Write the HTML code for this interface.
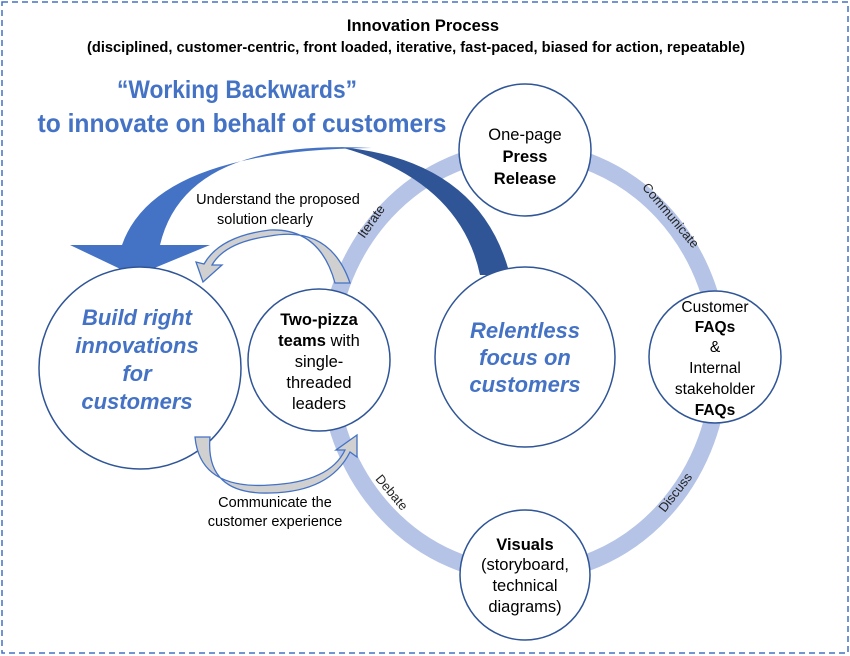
<!DOCTYPE html>
<html><head><meta charset="utf-8"><style>
body{margin:0;background:#fff}
svg{display:block;font-family:"Liberation Sans",sans-serif}
</style></head><body>
<svg width="850" height="656" viewBox="0 0 850 656" xmlns="http://www.w3.org/2000/svg">
<rect x="2" y="2" width="846" height="651" fill="#fff" stroke="#4472c4" stroke-width="1.5" stroke-dasharray="6,4"/>
<text x="423" y="31" text-anchor="middle" font-size="16.5" font-weight="bold" fill="#000">Innovation Process</text>
<text x="416" y="52" text-anchor="middle" font-size="14.5" font-weight="bold" fill="#000" textLength="658" lengthAdjust="spacingAndGlyphs">(disciplined, customer-centric, front loaded, iterative, fast-paced, biased for action, repeatable)</text>
<text x="237" y="98" text-anchor="middle" font-size="25" font-weight="bold" fill="#4472c4" textLength="240" lengthAdjust="spacingAndGlyphs">“Working Backwards”</text>
<text x="242" y="132" text-anchor="middle" font-size="26" font-weight="bold" fill="#4472c4" textLength="409" lengthAdjust="spacingAndGlyphs">to innovate on behalf of customers</text>
<ellipse cx="524" cy="362" rx="196" ry="212" fill="none" stroke="#b4c3e6" stroke-width="17"/>
<path d="M340,147 Q480,160 510,275 L480,275 Q460,180 340,147 Z" fill="#2f5597"/>
<path d="M372,148 Q185,138 160,245 L210,245 L135,276 L70,245 L122,245 Q155,150 372,148 Z" fill="#4472c4"/>
<g fill="#fff" stroke="#2f5597" stroke-width="1.5">
<circle cx="525" cy="150" r="66"/>
<circle cx="715" cy="357" r="66"/>
<circle cx="525" cy="575" r="65"/>
<circle cx="525" cy="357" r="90"/>
<circle cx="319" cy="360" r="71"/>
<circle cx="140" cy="368" r="101"/>
</g>
<path d="M350,283 Q330,225 270,236 Q225,242 212,265 L222,265 L203,282 L196,262 L204,264 Q220,236 270,230 Q320,228 335,283 Z" fill="#d0d0d0" stroke="#4472c4" stroke-width="1.3"/>
<path d="M195,437 Q200,490 270,485 Q330,482 345,450 L336,450 L357,435 L357,457 L350,452 Q330,492 270,493 Q205,495 210,437 Z" fill="#d0d0d0" stroke="#4472c4" stroke-width="1.3"/>
<g font-size="13" fill="#222" text-anchor="middle" dominant-baseline="middle">
<text transform="translate(372,222) rotate(-55)">Iterate</text>
<text transform="translate(670,216) rotate(50)">Communicate</text>
<text transform="translate(676,493) rotate(-52)">Discuss</text>
<text transform="translate(391,493) rotate(50)">Debate</text>
</g>
<g font-size="14.5" fill="#000" text-anchor="middle">
<text x="278" y="204">Understand the proposed</text>
<text x="265" y="224">solution clearly</text>
<text x="275" y="507">Communicate the</text>
<text x="275" y="526">customer experience</text>
</g>
<g font-size="16.5" fill="#000" text-anchor="middle">
<text x="525" y="140">One-page</text>
<text x="525" y="162" font-weight="bold">Press</text>
<text x="525" y="184" font-weight="bold">Release</text>
<text x="525" y="550" font-weight="bold">Visuals</text>
<text x="525" y="570">(storyboard,</text>
<text x="525" y="591">technical</text>
<text x="525" y="612">diagrams)</text>
<text x="319" y="325"><tspan font-weight="bold">Two-pizza</tspan></text>
<text x="319" y="346"><tspan font-weight="bold">teams</tspan> with</text>
<text x="319" y="367">single-</text>
<text x="319" y="388">threaded</text>
<text x="319" y="409">leaders</text>
</g>
<g font-size="15.5" fill="#000" text-anchor="middle">
<text x="715" y="312">Customer</text>
<text x="715" y="332" font-weight="bold">FAQs</text>
<text x="715" y="352">&amp;</text>
<text x="715" y="373">Internal</text>
<text x="715" y="394">stakeholder</text>
<text x="715" y="415" font-weight="bold">FAQs</text>
</g>
<g font-size="22" font-weight="bold" font-style="italic" fill="#4472c4" text-anchor="middle">
<text x="525" y="338">Relentless</text>
<text x="525" y="365">focus on</text>
<text x="525" y="392">customers</text>
<text x="137" y="325">Build right</text>
<text x="137" y="353">innovations</text>
<text x="137" y="381">for</text>
<text x="137" y="409">customers</text>
</g>
</svg>
</body></html>
